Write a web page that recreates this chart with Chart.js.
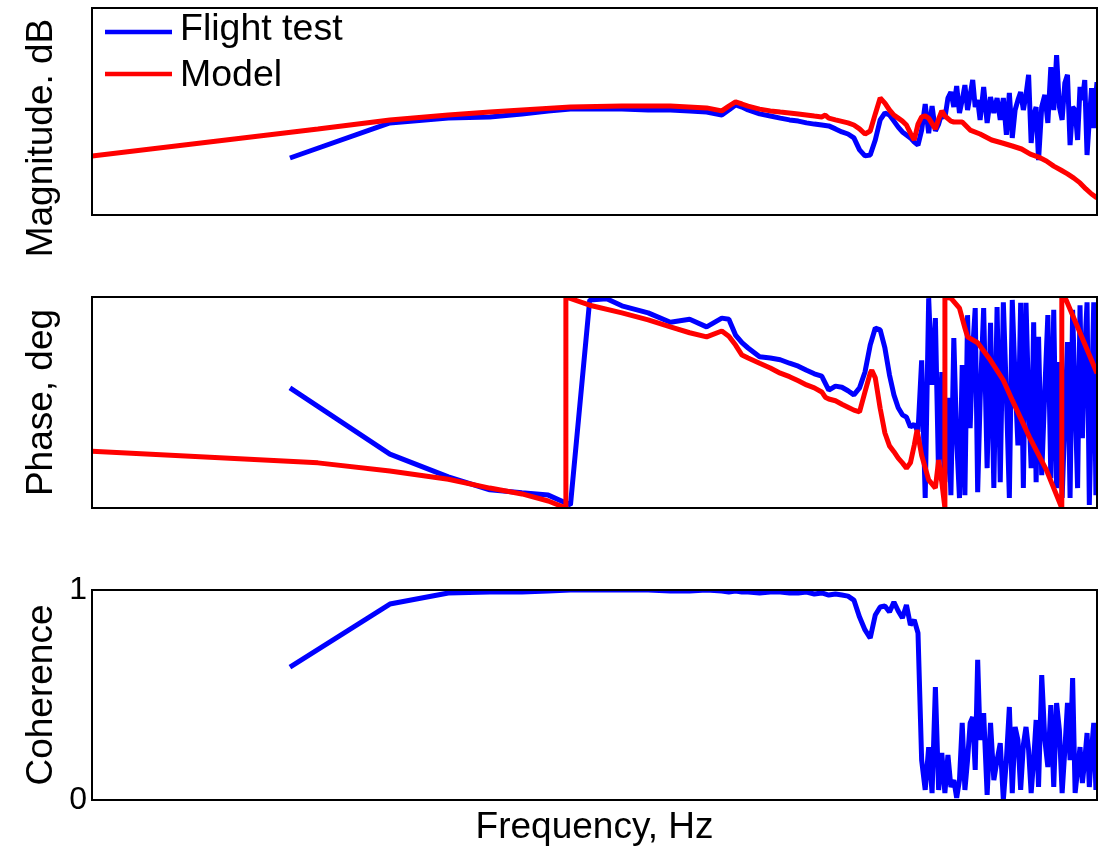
<!DOCTYPE html>
<html>
<head>
<meta charset="utf-8">
<script src="https://cdn.jsdelivr.net/npm/chart.js@4.4.1/dist/chart.umd.min.js"></script>
<style>
html,body{margin:0;padding:0;background:#fff;}
#wrap{position:relative;width:1101px;height:846px;overflow:hidden;background:#fff;}
#wrap canvas{position:absolute;left:0;top:0;}
</style>
</head>
<body>
<div id="wrap">
<canvas id="cMag" width="1101" height="846"></canvas>
<canvas id="cPhase" width="1101" height="846"></canvas>
<canvas id="cCoh" width="1101" height="846"></canvas>
</div>
<script>
// ---------------- data ----------------
const seriesNames = ['Flight test', 'Model'];
const axisTitles = ['Magnitude. dB', 'Phase, deg', 'Coherence', 'Frequency, Hz'];
const cohTicks = [0, 1];
const freqRange = [0.02533, 27.0];

// flight-test frequency points (Hz)
const freqTest = [0.1,0.2,0.3,0.4,0.5,0.6,0.7,0.8,0.9,1.0,1.2,1.4,1.6,1.8,2.0,2.1,2.2,2.3,2.4,2.6,2.8,3.0,3.2,3.4,3.6,3.8,4.0,4.2,4.4,4.6,4.8,5.0,5.2,5.4,5.6,5.8,6.0,6.2,6.4,6.6,6.8,7.0,7.2,7.4,7.6,7.8,
  8.0,8.2,8.4,8.6,8.8,9.0,9.2,9.4,9.6,9.8,10.0,10.2,10.4,10.6,10.8,11.0,11.2,11.4,11.6,11.8,12.0,
  12.3,12.6,12.9,13.2,13.5,13.8,14.1,14.4,14.7,15.0,15.3,15.6,15.9,16.2,16.5,16.8,17.1,17.4,17.7,18.0,
  18.4,18.8,19.2,19.6,20.0,20.4,20.8,21.2,21.6,22.0,22.4,22.8,23.2,23.6,24.0,24.4,24.8,25.2,25.6,26.0,26.4,26.8,27.0];

const magTest = [-50.0,-38.3,-36.7,-36.3,-35.3,-34.3,-33.7,-33.7,-33.7,-33.7,-34.0,-34.0,-34.3,-34.7,-35.7,-34.0,-32.3,-33.0,-34.0,-35.3,-36.0,-36.7,-37.3,-37.7,-38.3,-38.7,-39.0,-39.3,-40.3,-41.3,-42.0,-43.3,-47.3,-49.3,-49.0,-44.0,-37.3,-35.0,-35.7,-37.7,-39.7,-41.3,-42.3,-43.3,-44.7,-45.7,
  -40.7,-32.0,-41.7,-32.7,-41.0,-38.7,-35.0,-36.7,-30.0,-28.0,-33.0,-26.0,-35.0,-30.7,-25.7,-34.0,-29.0,-24.0,-33.0,-30.7,
  -37.3,-26.3,-38.3,-29.7,-35.0,-30.0,-37.3,-30.0,-42.3,-28.3,-43.3,-34.0,-30.7,-28.0,-34.0,-29.0,-22.3,-45.0,-35.7,-33.0,
  -50.7,-33.0,-29.0,-38.3,-19.7,-34.0,-15.7,-33.0,-37.3,-25.0,-22.3,-45.7,-33.0,-34.0,-44.0,-26.3,-30.7,-24.0,-49.0,-37.3,
  -26.7,-40.0,-29.0,-24.7];

const phaseTest = [25,-88,-127,-149,-154,-158,-175,175,177,165,153,137,142,129,144,142,115,102,93,78,76,73,67,62,55,49,45,21,28,26,20,13,25,52,98,127,124,93,47,13,-9,-21,-25,-42,-37,-50,
  72,-163,178,30,144,-129,52,-136,8,-158,110,-64,-163,64,-158,149,-44,90,161,-153,
  4,161,-112,136,-146,163,-136,171,13,-163,175,38,-73,170,-146,170,4,-112,137,-136,
  112,-124,21,149,-129,158,-146,69,-163,-30,103,-163,158,4,-146,166,-61,90,171,-175,
  4,171,-158,-64];

const cohTest = [0.633,0.933,0.986,0.990,0.990,0.995,1.0,1.0,1.0,1.0,1.0,0.995,0.995,1.0,0.995,0.990,0.995,0.990,0.990,0.986,0.990,0.990,0.986,0.986,0.990,0.981,0.986,0.976,0.981,0.976,0.971,0.952,0.871,0.810,0.771,0.881,0.919,0.924,0.895,0.943,0.900,0.867,0.929,0.833,0.857,0.795,
  0.190,0.048,0.252,0.033,0.538,0.048,0.224,0.033,0.214,0.062,0.095,0.010,0.095,0.367,0.048,0.190,0.367,0.395,0.143,0.667,
  0.286,0.414,0.024,0.367,0.095,0.190,0.271,0.0,0.190,0.443,0.033,0.348,0.286,0.048,0.262,0.348,0.238,0.033,0.190,0.381,
  0.062,0.595,0.286,0.157,0.452,0.062,0.462,0.333,0.033,0.238,0.462,0.190,0.581,0.033,0.143,0.252,0.081,0.190,0.319,0.062,
  0.238,0.367,0.048,0.190];

// model magnitude
const freqModelMag = [0.02533,0.1214,0.2,0.3,0.4,0.5,0.7,1.0,1.4,1.8,2.0,2.1,2.2,2.3,2.4,2.6,2.8,3.0,3.4,3.8,4.0,4.1,4.2,4.4,4.8,5.0,5.2,5.4,5.6,5.8,6.0,6.2,6.4,6.6,6.8,7.0,7.2,7.4,7.6,7.8,8.0,8.2,8.4,8.8,9.0,9.2,9.4,9.8,10.0,10.6,11.2,12,13,14,15,16,17,18,19,20,21,22,23,24,25,26,27];
const magModel = [-49.3,-40.3,-37.3,-35.7,-34.7,-34.0,-33.0,-32.7,-32.7,-33.3,-34.3,-32.7,-31.3,-32.0,-32.7,-33.7,-34.3,-34.7,-35.3,-36.0,-36.3,-35.7,-36.7,-37.3,-38.3,-39.0,-40.3,-42.0,-41.0,-35.3,-30.0,-31.7,-34.0,-35.7,-36.7,-37.7,-39.0,-41.7,-44.0,-38.7,-36.3,-36.0,-36.7,-40.3,-37.0,-34.3,-36.0,-37.7,-38.0,-38.0,-40.7,-42.0,-44.0,-45.0,-46.0,-47.0,-48.7,-49.7,-51.0,-52.7,-54.0,-55.3,-56.7,-58.3,-60.3,-62.0,-63.3];

// model phase (wrapped to +/-180 deg)
const freqModelPhase = [0.02533,0.1214,0.2,0.3,0.4,0.5,0.6,0.678,0.6781,0.8,1.0,1.2,1.4,1.6,1.8,2.0,2.1,2.2,2.3,2.4,2.6,2.8,3.0,3.2,3.4,3.6,3.8,4.0,4.1,4.2,4.4,4.6,4.8,5.0,5.2,5.4,5.6,5.66,5.8,6.0,6.2,6.4,6.6,6.8,7.0,7.2,7.4,7.6,7.75,8.0,8.4,8.8,9.0,9.2,9.4,9.401,9.8,10.4,10.8,11.0,11.8,12.9,14.1,15.0,16.9,19.0,21.15,21.151,21.8,24.0,27.0];
const phaseModel = [-83,-103,-117,-131,-146,-156,-168,-180,180,166,153,141,129,119,112,122,113,98,81,76,67,59,50,44,37,30,25,18,9,6,3,-3,-8,-13,-16,18,50,55,42,-10,-52,-74,-84,-95,-103,-112,-103,-73,-47,-90,-132,-146,-98,-136,-180,180,178,161,127,112,102,72,38,4,-59,-115,-180,180,175,119,50];

// ---------------- styling / helpers ----------------
const FONT = "'Liberation Sans', Arial, Helvetica, sans-serif";
const BLUE = 'rgb(0,0,255)';
const RED = 'rgb(255,0,0)';
Chart.defaults.font.family = FONT;
Chart.defaults.color = '#000';

function pts(xs, ys) { return xs.map((x, i) => ({ x: x, y: ys[i] })); }

const boxPlugin = {
  id: 'axesBox',
  afterDatasetsDraw(chart) {
    const a = chart.chartArea, c = chart.ctx;
    c.save();
    c.strokeStyle = '#000';
    c.lineWidth = 2;
    c.strokeRect(a.left, a.top, a.right - a.left, a.bottom - a.top);
    c.restore();
  }
};

const sideTitlePlugin = {
  id: 'sideTitle',
  afterDraw(chart, args, opts) {
    if (!opts || !opts.text) return;
    const c = chart.ctx;
    c.save();
    c.translate(opts.x, opts.y);
    c.rotate(-Math.PI / 2);
    c.font = opts.size + 'px ' + FONT;
    c.fillStyle = '#000';
    c.textAlign = 'center';
    c.textBaseline = 'middle';
    c.fillText(opts.text, 0, 0);
    c.restore();
  }
};

const lineLegendPlugin = {
  id: 'lineLegend',
  afterDraw(chart, args, opts) {
    if (!opts || !opts.display) return;
    const c = chart.ctx;
    c.save();
    chart.data.datasets.forEach((ds, i) => {
      const row = opts.rows[i];
      c.strokeStyle = ds.borderColor;
      c.lineWidth = opts.lineWidth;
      c.lineCap = 'butt';
      c.beginPath();
      c.moveTo(opts.x0, row.ly);
      c.lineTo(opts.x1, row.ly);
      c.stroke();
      c.fillStyle = '#000';
      c.font = opts.size + 'px ' + FONT;
      c.textAlign = 'left';
      c.textBaseline = 'middle';
      c.fillText(ds.label, opts.tx, row.ty);
    });
    c.restore();
  }
};

function baseOptions(pad) {
  return {
    responsive: false,
    animation: false,
    devicePixelRatio: 1,
    events: [],
    layout: { padding: pad },
    elements: {
      point: { radius: 0 },
      line: { tension: 0, borderWidth: 5, borderJoinStyle: 'bevel', borderCapStyle: 'butt' }
    },
    plugins: { legend: { display: false }, tooltip: { enabled: false } }
  };
}

function hiddenX() {
  return { type: 'logarithmic', min: freqRange[0], max: freqRange[1], display: false };
}

function yAxis(min, max, titleText) {
  return {
    min: min, max: max,
    ticks: { display: false },
    grid: { display: false, drawTicks: false },
    border: { display: false },
    title: titleText ? {
      display: true, text: titleText, color: '#000',
      font: { family: FONT, size: 37, lineHeight: 1 },
      padding: { top: 23, bottom: 0 }
    } : { display: false },
    afterFit(s) { s.width = 92; }
  };
}

// ---------------- magnitude ----------------
const magOpts = baseOptions({ left: 0, right: 4, top: 8, bottom: 631 });
magOpts.scales = { x: hiddenX(), y: yAxis(-69, 0, null) };
magOpts.plugins.sideTitle = { text: axisTitles[0], x: 41.5, y: 138, size: 37 };
magOpts.plugins.lineLegend = {
  display: true, x0: 105, x1: 172, tx: 180, size: 37.5, lineWidth: 4.5,
  rows: [{ ly: 32, ty: 30 }, { ly: 74, ty: 76 }]
};
new Chart(document.getElementById('cMag'), {
  type: 'line',
  data: {
    datasets: [
      { label: seriesNames[0], data: pts(freqTest, magTest), borderColor: BLUE, order: 1 },
      { label: seriesNames[1], data: pts(freqModelMag, magModel), borderColor: RED, order: 0 }
    ]
  },
  options: magOpts,
  plugins: [boxPlugin, sideTitlePlugin, lineLegendPlugin]
});

// ---------------- phase ----------------
const phOpts = baseOptions({ left: 0, right: 4, top: 297, bottom: 338 });
phOpts.scales = { x: hiddenX(), y: yAxis(-180, 180, axisTitles[1]) };
new Chart(document.getElementById('cPhase'), {
  type: 'line',
  data: {
    datasets: [
      { label: seriesNames[0], data: pts(freqTest, phaseTest), borderColor: BLUE, order: 1 },
      { label: seriesNames[1], data: pts(freqModelPhase, phaseModel), borderColor: RED, order: 0 }
    ]
  },
  options: phOpts,
  plugins: [boxPlugin]
});

// ---------------- coherence ----------------
const cohOpts = baseOptions({ left: 0, right: 4, top: 590, bottom: 0 });
const cohY = yAxis(0, 1, axisTitles[2]);
cohY.ticks = { display: true, padding: 5, color: '#000', font: { family: FONT, size: 32 }, callback: v => String(v) };
cohY.afterBuildTicks = s => { s.ticks = cohTicks.map(v => ({ value: v })); };
cohOpts.scales = {
  x: {
    type: 'logarithmic', min: freqRange[0], max: freqRange[1],
    ticks: { display: false },
    grid: { display: false, drawTicks: false },
    border: { display: false },
    title: { display: true, text: axisTitles[3], color: '#000', font: { family: FONT, size: 37, lineHeight: 1 }, padding: { top: 9, bottom: 0 } },
    afterFit(s) { s.height = 46; }
  },
  y: cohY
};
new Chart(document.getElementById('cCoh'), {
  type: 'line',
  data: {
    datasets: [
      { label: seriesNames[0], data: pts(freqTest, cohTest), borderColor: BLUE }
    ]
  },
  options: cohOpts,
  plugins: [boxPlugin]
});
</script>
</body>
</html>
